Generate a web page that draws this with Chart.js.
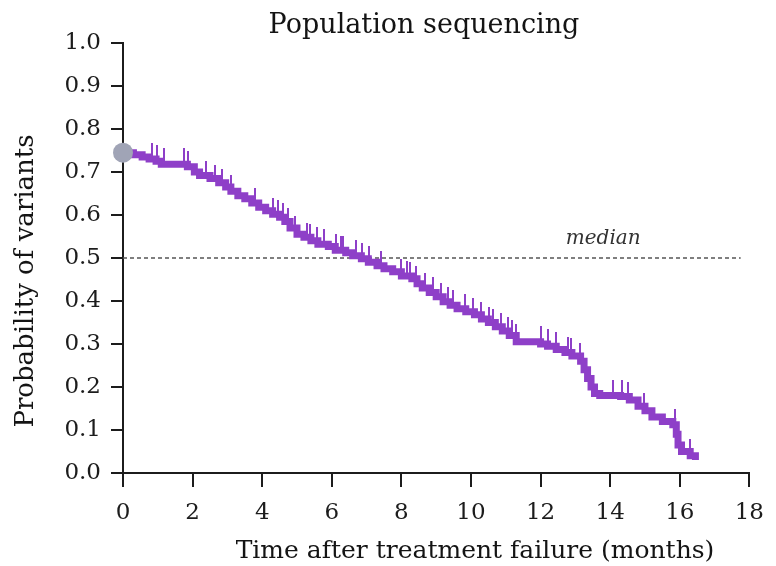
<!DOCTYPE html>
<html><head><meta charset="utf-8">
<script src="https://cdn.jsdelivr.net/npm/chart.js@4/dist/chart.umd.min.js"></script>
<style>html,body{margin:0;padding:0;background:#fff}#wrap{width:776px;height:566px}</style>
</head><body><div id="wrap"><canvas id="c" width="776" height="566"></canvas></div>
<script>
const titleText = 'Population sequencing';
const xAxisTitle = 'Time after treatment failure (months)';
const yAxisTitle = 'Probability of variants';
const medianLabel = 'median';
const medianValue = 0.5;
const medianEnd = 17.75;
const xTickValues = [0, 2, 4, 6, 8, 10, 12, 14, 16, 18];
const yTickValues = [0, 0.1, 0.2, 0.3, 0.4, 0.5, 0.6, 0.7, 0.8, 0.9, 1.0];
const startTime = 0;
const startSurvival = 0.745;
const kmTimes = [0, 0.3, 0.55, 0.75, 0.95, 1.1, 1.85, 2.05, 2.2, 2.5, 2.75, 2.95, 3.1, 3.3, 3.5, 3.7, 3.9, 4.1, 4.3, 4.5, 4.65, 4.8, 5.0, 5.2, 5.4, 5.6, 5.9, 6.1, 6.4, 6.6, 6.85, 7.05, 7.3, 7.5, 7.75, 8.0, 8.3, 8.45, 8.6, 8.8, 9.0, 9.2, 9.4, 9.6, 9.85, 10.1, 10.3, 10.5, 10.7, 10.9, 11.1, 11.3, 12.0, 12.2, 12.45, 12.7, 12.9, 13.15, 13.25, 13.35, 13.45, 13.55, 13.7, 14.3, 14.55, 14.8, 15.0, 15.2, 15.5, 15.8, 15.9, 15.95, 16.05, 16.3, 16.45];
const kmSurvival = [0.745, 0.74, 0.735, 0.73, 0.725, 0.718, 0.712, 0.70, 0.692, 0.685, 0.675, 0.665, 0.655, 0.645, 0.638, 0.628, 0.618, 0.61, 0.602, 0.595, 0.585, 0.57, 0.555, 0.548, 0.54, 0.532, 0.527, 0.518, 0.512, 0.505, 0.498, 0.49, 0.482, 0.475, 0.468, 0.458, 0.452, 0.44, 0.43, 0.42, 0.41, 0.398, 0.39, 0.382, 0.375, 0.368, 0.358, 0.35, 0.34, 0.33, 0.32, 0.305, 0.30, 0.295, 0.287, 0.28, 0.272, 0.26, 0.24, 0.22, 0.20, 0.185, 0.18, 0.178, 0.17, 0.155, 0.145, 0.13, 0.12, 0.112, 0.09, 0.065, 0.05, 0.04, 0.03];
const censorTimes = [0.84, 0.98, 1.18, 1.74, 1.88, 2.39, 2.64, 2.84, 3.1, 3.8, 4.3, 4.46, 4.6, 4.74, 4.93, 5.28, 5.38, 5.57, 5.79, 6.12, 6.26, 6.33, 6.7, 6.86, 7.08, 7.41, 7.99, 8.15, 8.25, 8.43, 8.67, 8.9, 9.14, 9.33, 9.49, 9.84, 10.05, 10.3, 10.52, 10.64, 10.85, 11.06, 11.18, 11.29, 12.0, 12.2, 12.44, 12.79, 12.87, 13.13, 14.08, 14.34, 14.52, 14.97, 15.85, 16.3];
const censorSurvival = [0.73, 0.725, 0.718, 0.718, 0.712, 0.688, 0.678, 0.67, 0.655, 0.625, 0.602, 0.597, 0.59, 0.578, 0.56, 0.545, 0.542, 0.535, 0.53, 0.518, 0.515, 0.514, 0.505, 0.498, 0.49, 0.478, 0.46, 0.456, 0.454, 0.445, 0.428, 0.418, 0.405, 0.395, 0.388, 0.378, 0.37, 0.36, 0.35, 0.345, 0.335, 0.325, 0.318, 0.31, 0.305, 0.298, 0.29, 0.28, 0.277, 0.265, 0.18, 0.178, 0.175, 0.148, 0.112, 0.042];

const PURPLE = '#8e3fc8';
const INK = '#1c1c1c';
const SERIF = '"DejaVu Serif", "Liberation Serif", serif';

// censor tick glyph: a vertical stroke rising above the point
const tickGlyph = document.createElement('canvas');
tickGlyph.width = 2; tickGlyph.height = 32;
(function(){ const g = tickGlyph.getContext('2d'); g.fillStyle = PURPLE; g.fillRect(0, 0, 2, 16); })();

const kmData = kmTimes.map((t, i) => ({x: t, y: kmSurvival[i]}));
const censorData = censorTimes.map((t, i) => ({x: t, y: censorSurvival[i]}));

const textPlugin = {
  id: 'texts',
  afterDraw(chart) {
    const ctx = chart.ctx;
    const xs = chart.scales.x, ys = chart.scales.y;
    ctx.save();
    ctx.fillStyle = '#141414';
    ctx.textAlign = 'center';
    ctx.textBaseline = 'middle';
    ctx.font = '27px ' + SERIF;
    ctx.fillText(titleText, 424, 26);
    ctx.font = '25px ' + SERIF;
    ctx.fillText(xAxisTitle, 475, 551);
    ctx.save();
    ctx.translate(26, 281);
    ctx.rotate(-Math.PI / 2);
    ctx.font = '26px ' + SERIF;
    ctx.fillText(yAxisTitle, 0, 0);
    ctx.restore();
    ctx.font = 'italic 20px ' + SERIF;
    ctx.fillStyle = '#333';
    ctx.fillText(medianLabel, xs.getPixelForValue(13.8), ys.getPixelForValue(medianValue) - 19);
    ctx.restore();
  }
};

new Chart(document.getElementById('c'), {
  type: 'scatter',
  data: {
    datasets: [
      { label: 'start', data: [{x: startTime, y: startSurvival}], pointRadius: 10, pointHoverRadius: 10,
        backgroundColor: '#a0a4b6', borderColor: '#a0a4b6', borderWidth: 0, clip: false, order: 0 },
      { label: 'censored', data: censorData, pointStyle: tickGlyph, pointRadius: 7, order: 1, clip: false },
      { label: 'km', data: kmData, showLine: true, stepped: true, borderColor: PURPLE, borderWidth: 7,
        borderJoinStyle: 'miter', borderCapStyle: 'butt',
        pointRadius: 0, fill: false, order: 2, clip: false },
      { label: 'median', data: [{x: 0, y: medianValue}, {x: medianEnd, y: medianValue}], showLine: true,
        borderColor: '#555', borderWidth: 1.3, borderDash: [4, 3], pointRadius: 0, order: 3 }
    ]
  },
  options: {
    responsive: false,
    animation: false,
    devicePixelRatio: 1,
    layout: { padding: { top: 43, right: 11, left: 0, bottom: 0 } },
    plugins: { legend: { display: false }, tooltip: { enabled: false }, title: { display: false } },
    scales: {
      x: {
        type: 'linear', min: 0, max: 18,
        afterBuildTicks(s) { s.ticks = xTickValues.map(v => ({value: v})); },
        afterFit(s) { s.height = 93; },
        ticks: { color: INK, font: { family: SERIF, size: 23 }, padding: 12, maxRotation: 0,
                 callback: v => String(v) },
        grid: { drawOnChartArea: false, drawTicks: true, tickLength: 14, color: INK, lineWidth: 2 },
        border: { display: true, color: INK, width: 2 }
      },
      y: {
        min: 0, max: 1,
        afterBuildTicks(s) { s.ticks = yTickValues.map(v => ({value: v})); },
        afterFit(s) { s.width = 123; },
        ticks: { color: INK, font: { family: SERIF, size: 23 }, padding: 10,
                 callback: v => Number(v).toFixed(1) },
        grid: { drawOnChartArea: false, drawTicks: true, tickLength: 12, color: INK, lineWidth: 2 },
        border: { display: true, color: INK, width: 2 }
      }
    }
  },
  plugins: [textPlugin]
});
</script></body></html>
